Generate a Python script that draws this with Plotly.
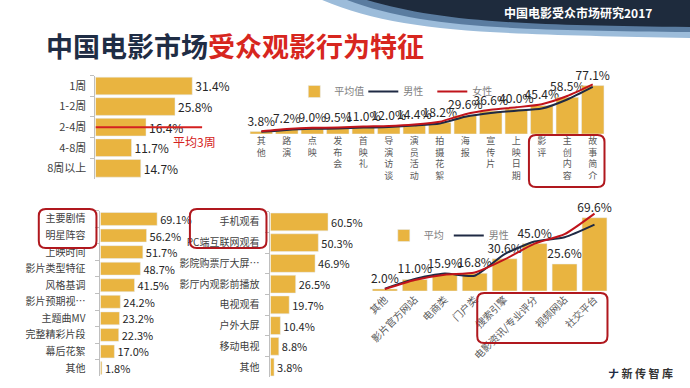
import plotly.graph_objects as go

# ---------------- data ----------------
p1_cats = ["1周", "1-2周", "2-4周", "4-8周", "8周以上"]
p1_vals = [31.4, 25.8, 16.4, 11.7, 14.7]
p1_avg_label = "平均3周"

p2_cats = ["其他", "路演", "点映", "发布会", "首映礼", "导演访谈", "演员活动", "拍摄花絮",
           "海报", "宣传片", "上映日期", "影评", "主创内容", "故事简介"]
p2_avg = [3.8, 7.2, 9.0, 9.5, 11.0, 12.0, 14.4, 18.2, 29.6, 36.6, 40.0, 45.4, 58.5, 77.1]
p2_male = [3.4, 6.5, 8.2, 8.8, 10.2, 11.2, 13.5, 16.8, 27.5, 33.5, 37.0, 40.5, 55.0, 75.0]
p2_female = [4.2, 7.8, 9.8, 10.2, 11.8, 12.8, 15.2, 19.5, 31.5, 38.5, 42.5, 47.5, 60.5, 79.0]

p3_cats = ["主要剧情", "明星阵容", "上映时间", "影片类型特征", "风格基调", "影片预期视…",
           "主题曲MV", "完整精彩片段", "幕后花絮", "其他"]
p3_vals = [69.1, 56.2, 51.7, 48.7, 41.5, 24.2, 23.2, 22.3, 17.0, 1.8]

p4_cats = ["手机观看", "PC端互联网观看", "影院购票厅大屏…", "影厅内观影前播放",
           "电视观看", "户外大屏", "移动电视", "其他"]
p4_vals = [60.5, 50.3, 46.9, 26.5, 19.7, 10.4, 8.8, 3.8]

p5_cats = ["其他", "影片官方网站", "电商类", "门户类", "搜索引擎", "电影资讯/专业评分", "视频网站", "社交平台"]
p5_avg = [2.0, 11.0, 15.9, 16.8, 30.6, 45.0, 25.6, 69.6]
p5_male = [2.2, 11.5, 16.5, 14.5, 35.0, 47.0, 51.0, 63.0]
p5_female = [1.8, 10.5, 15.5, 17.5, 30.0, 45.0, 54.0, 73.5]

# ---------------- style ----------------
W, H = 690, 388
GOLD = "#E9B440"
NAVY = "#1F2A44"
RED = "#C0141B"
TXT = "#404040"
FONT = "Noto Sans CJK SC"


def X(p):
    return p / W


def Y(p):
    return 1 - p / H


def pct(v):
    return [f"{x}%" for x in v]


fig = go.Figure()

# panel 1
fig.add_trace(go.Bar(x=p1_vals, y=p1_cats, orientation="h", xaxis="x", yaxis="y",
                     marker_color=GOLD, width=0.86, text=pct(p1_vals), textposition="outside",
                     textfont=dict(size=12, color="#262626"), cliponaxis=False,
                     constraintext="none", showlegend=False))
fig.add_trace(go.Scatter(x=[0, 34.6], y=[p1_cats[2], p1_cats[2]], mode="lines", xaxis="x", yaxis="y",
                         line=dict(color="#D42020", width=2), showlegend=False, cliponaxis=False))

# panel 2
fig.add_trace(go.Bar(x=p2_cats, y=p2_avg, xaxis="x2", yaxis="y2", marker_color=GOLD, width=0.88,
                     text=pct(p2_avg), textposition="outside", textfont=dict(size=12, color="#262626"),
                     cliponaxis=False, constraintext="none", name="平均值", legend="legend"))
fig.add_trace(go.Scatter(x=p2_cats, y=p2_male, xaxis="x2", yaxis="y2", mode="lines",
                         line=dict(color=NAVY, width=2, shape="spline", smoothing=0.6),
                         name="男性", legend="legend", cliponaxis=False))
fig.add_trace(go.Scatter(x=p2_cats, y=p2_female, xaxis="x2", yaxis="y2", mode="lines",
                         line=dict(color=RED, width=2, shape="spline", smoothing=0.6),
                         name="女性", legend="legend", cliponaxis=False))

# panel 3
fig.add_trace(go.Bar(x=p3_vals, y=p3_cats, orientation="h", xaxis="x3", yaxis="y3",
                     marker_color=GOLD, width=0.78, text=pct(p3_vals), textposition="outside",
                     textfont=dict(size=11, color="#262626"), cliponaxis=False,
                     constraintext="none", showlegend=False))

# panel 4
fig.add_trace(go.Bar(x=p4_vals, y=p4_cats, orientation="h", xaxis="x4", yaxis="y4",
                     marker_color=GOLD, width=0.86, text=pct(p4_vals), textposition="outside",
                     textfont=dict(size=11, color="#262626"), cliponaxis=False,
                     constraintext="none", showlegend=False))

# panel 5
fig.add_trace(go.Bar(x=p5_cats, y=p5_avg, xaxis="x5", yaxis="y5", marker_color=GOLD, width=0.83,
                     text=pct(p5_avg), textposition="outside", textfont=dict(size=12, color="#262626"),
                     cliponaxis=False, constraintext="none", name="平均", legend="legend2"))
fig.add_trace(go.Scatter(x=p5_cats, y=p5_male, xaxis="x5", yaxis="y5", mode="lines",
                         line=dict(color=NAVY, width=2, shape="spline", smoothing=0.6),
                         name="男性", legend="legend2", cliponaxis=False))
fig.add_trace(go.Scatter(x=p5_cats, y=p5_female, xaxis="x5", yaxis="y5", mode="lines",
                         line=dict(color=RED, width=2, shape="spline", smoothing=0.6),
                         name="女性", showlegend=False, cliponaxis=False))

hide = dict(showgrid=False, zeroline=False, showticklabels=False, showline=False, ticks="")


def cat_y(dom_top, dom_bot, size, standoff):
    return dict(type="category", autorange="reversed", domain=[Y(dom_bot), Y(dom_top)],
                showline=True, linecolor="#BFBFBF", linewidth=1, ticks="outside", ticklen=4,
                tickcolor="#BFBFBF", tickson="boundaries", showgrid=False, zeroline=False,
                ticklabelstandoff=standoff, tickfont=dict(size=size, color=TXT))


fig.update_layout(
    width=W, height=H, margin=dict(l=0, r=0, t=0, b=0),
    paper_bgcolor="white", plot_bgcolor="rgba(0,0,0,0)",
    font=dict(family=FONT, color=TXT),
    xaxis=dict(domain=[X(92), X(216)], range=[0, 40], anchor="y", **hide),
    yaxis=dict(anchor="x", **cat_y(75.7, 178.6, 11, 6)),
    xaxis2=dict(domain=[X(246), X(605)], anchor="y2", showgrid=False, zeroline=False,
                showline=False, ticks="", tickmode="array", tickvals=p2_cats,
                ticktext=["<br>".join(c) for c in p2_cats], tickangle=0,
                tickfont=dict(size=9, color="#595959")),
    yaxis2=dict(domain=[Y(134), Y(80)], range=[0, 86], anchor="x2", **hide),
    xaxis3=dict(domain=[X(97), X(163)], range=[0, 80], anchor="y3", **hide),
    yaxis3=dict(anchor="x3", **cat_y(210.7, 376.3, 10, 12)),
    xaxis4=dict(domain=[X(268), X(335)], range=[0, 70], anchor="y4", **hide),
    yaxis4=dict(anchor="x4", **cat_y(211.6, 377.4, 10, 8)),
    xaxis5=dict(domain=[X(368), X(609)], anchor="y5", showgrid=False, zeroline=False,
                showline=False, ticks="", tickangle=-45, tickfont=dict(size=10, color="#595959")),
    yaxis5=dict(domain=[Y(291), Y(212)], range=[0, 75], anchor="x5", **hide),
    legend=dict(orientation="h", x=X(292), y=Y(77), xanchor="left", yanchor="top",
                font=dict(size=10, color="#7F7F7F"), bgcolor="rgba(0,0,0,0)",
                entrywidth=24, entrywidthmode="pixels", itemwidth=30, tracegroupgap=0),
    legend2=dict(orientation="h", x=X(382), y=Y(221), xanchor="left", yanchor="top",
                 font=dict(size=10, color="#7F7F7F"), bgcolor="rgba(0,0,0,0)",
                 itemwidth=30),
)


def rrect(x0, y0, x1, y1, r=7):
    pts = (f"M {X(x0 + r)},{Y(y0)} L {X(x1 - r)},{Y(y0)} Q {X(x1)},{Y(y0)} {X(x1)},{Y(y0 + r)} "
           f"L {X(x1)},{Y(y1 - r)} Q {X(x1)},{Y(y1)} {X(x1 - r)},{Y(y1)} "
           f"L {X(x0 + r)},{Y(y1)} Q {X(x0)},{Y(y1)} {X(x0)},{Y(y1 - r)} "
           f"L {X(x0)},{Y(y0 + r)} Q {X(x0)},{Y(y0)} {X(x0 + r)},{Y(y0)} Z")
    return dict(type="path", xref="paper", yref="paper", path=pts,
                line=dict(color="#B0181E", width=2), fillcolor="rgba(0,0,0,0)")


def wave(x0, xc1, yc1, xc2, yc2, y_end, color):
    pts = (f"M {X(x0)},{Y(0)} C {X(xc1)},{Y(yc1)} {X(xc2)},{Y(yc2)} {X(690)},{Y(y_end)} "
           f"L {X(690)},{Y(0)} Z")
    return dict(type="path", xref="paper", yref="paper", path=pts, line=dict(width=0),
                fillcolor=color, layer="below")


fig.update_layout(shapes=[
    wave(320, 400, 34, 500, 34, 38, "#9CBCDA"),
    wave(345, 420, 28, 510, 30, 32, "#5A7CA0"),
    wave(365, 440, 22, 520, 25, 27, "#1E2B3D"),
    rrect(35, 209, 93, 248),
    rrect(187, 209, 264, 248),
    rrect(528, 135, 604, 187),
    rrect(476, 293, 607, 343),
])

fig.update_layout(annotations=[
    dict(xref="paper", yref="paper", x=X(40), y=Y(45), xanchor="left", yanchor="middle",
         showarrow=False, font=dict(size=27, family=FONT),
         text="<b><span style='color:#1F2D45'>中国电影市场</span>"
              "<span style='color:#D7261E'>受众观影行为特征</span></b>"),
    dict(xref="paper", yref="paper", x=X(577), y=Y(12), xanchor="center", yanchor="middle",
         showarrow=False, font=dict(size=12, color="white", family=FONT),
         text="<b>中国电影受众市场研究2017</b>"),
    dict(xref="paper", yref="paper", x=X(192), y=Y(141), xanchor="center", yanchor="middle",
         showarrow=False, font=dict(size=12, color="#D42020", family=FONT), text=p1_avg_label),
    dict(xref="paper", yref="paper", x=X(675), y=Y(373), xanchor="right", yanchor="middle",
         showarrow=False, font=dict(size=11, color="#333333", family=FONT),
         text="<b><span style='color:#1F2D45'>ナ</span> 新 传 智 库</b>"),
])

fig.write_html("out.html", config={"displayModeBar": False},
               post_script="document.body.style.margin='0';document.body.style.overflow='hidden';")
